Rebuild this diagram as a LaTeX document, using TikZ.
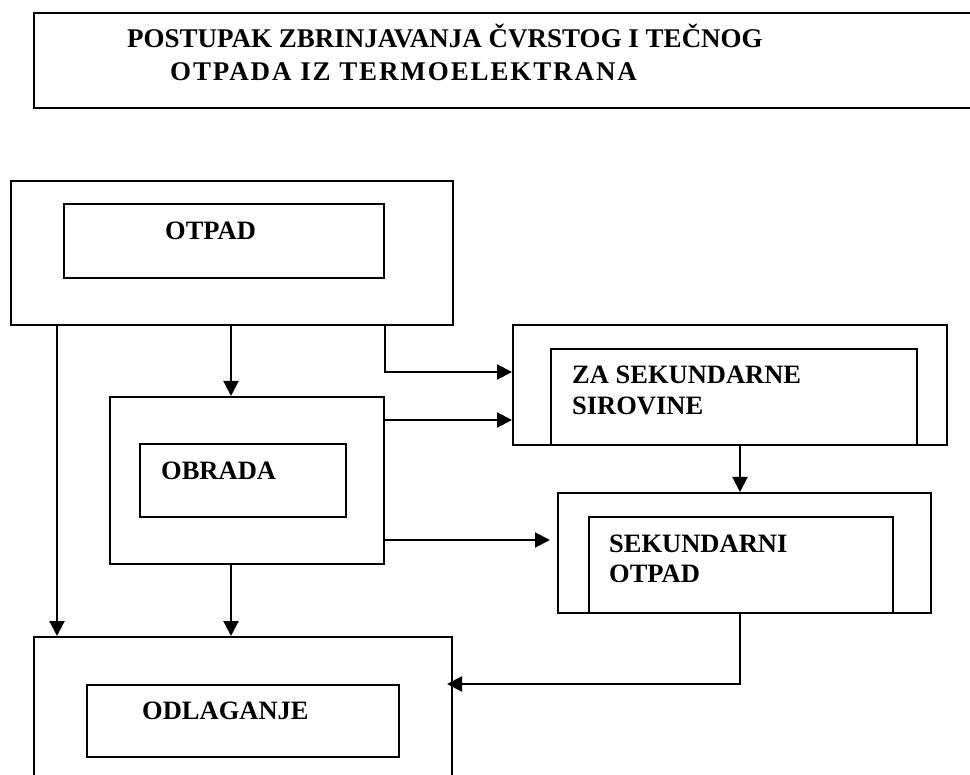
\documentclass[tikz,border=0pt]{standalone}
\usepackage{fontspec}
\setmainfont{Liberation Serif}
\usetikzlibrary{arrows.meta}
\begin{document}
\begin{tikzpicture}[x=1pt,y=-1pt,
  box/.style={draw=black, line width=2pt, rectangle, inner sep=0pt, anchor=north west},
  lbl/.style={inner sep=0pt, anchor=base west, font=\bfseries\fontsize{26.5}{31}\selectfont},
  head/.style={lbl, font=\bfseries\fontsize{27}{32}\selectfont},
  arr/.style={draw=black, line width=2pt, -{Triangle[length=15pt,width=15pt]}}]
\path[use as bounding box, clip] (0,0) rectangle (970,775);

% heading
\node[box, minimum width=947pt, minimum height=95pt] (title) at (33,12) {};
\node[head] (title1) at (127,48) {POSTUPAK ZBRINJAVANJA ČVRSTOG I TEČNOG};
\node[head] (title2) at (170,81) {\addfontfeature{LetterSpace=7}OTPADA IZ TERMOELEKTRANA};

% waste
\node[box, minimum width=442pt, minimum height=144pt] (otpad) at (10,180) {};
\node[box, minimum width=320pt, minimum height=74pt] (otpadin) at (63,203) {};
\node[lbl] (otpadtxt) at (165,240) {OTPAD};

% treatment
\node[box, minimum width=274pt, minimum height=167pt] (obrada) at (109,396) {};
\node[box, minimum width=206pt, minimum height=73pt] (obradain) at (139,443) {};
\node[lbl] (obradatxt) at (161,480) {OBRADA};

% secondary raw materials
\node[box, minimum width=434pt, minimum height=120pt] (zasek) at (512,324) {};
\node[box, minimum width=366pt, minimum height=96pt] (zasekin) at (550,348) {};
\node[lbl] (zasek1) at (572,384) {ZA SEKUNDARNE};
\node[lbl] (zasek2) at (572,415) {SIROVINE};

% secondary waste
\node[box, minimum width=373pt, minimum height=120pt] (sekotp) at (557,492) {};
\node[box, minimum width=304pt, minimum height=96pt] (sekotpin) at (588,516) {};
\node[lbl] (sekotp1) at (609,552) {SEKUNDARNI};
\node[lbl] (sekotp2) at (609,583) {OTPAD};

% disposal
\node[box, minimum width=418pt, minimum height=154pt] (odl) at (33,636) {};
\node[box, minimum width=312pt, minimum height=72pt] (odlin) at (86,684) {};
\node[lbl] (odltxt) at (142,719) {ODLAGANJE};

% connectors
\coordinate (pA) at ([xshift=47pt]otpad.south west);
\coordinate (pB) at ([xshift=221pt]otpad.south west);
\coordinate (pC) at (otpadin.east |- otpad.south);
\coordinate (pD) at (740,444);

\draw[arr] (pA) -- (pA |- odl.north);
\draw[arr] (pB) -- (pB |- obrada.north);
\draw[arr] (pC) -- (pC |- 0,372) -- (zasek.west |- 0,372);
\draw[arr] (obrada.east |- 0,420) -- (zasek.west |- 0,420);
\draw[arr, shorten >=7pt] (obrada.east |- 0,540) -- (sekotp.west |- 0,540);
\draw[arr] (pB |- obrada.south) -- (pB |- odl.north);
\draw[arr] (pD |- zasek.south) -- (pD |- sekotp.north);
\draw[arr, shorten >=-6pt] (pD |- sekotp.south) -- (pD |- odlin.north) -- (odl.east |- odlin.north);
\end{tikzpicture}
\end{document}
